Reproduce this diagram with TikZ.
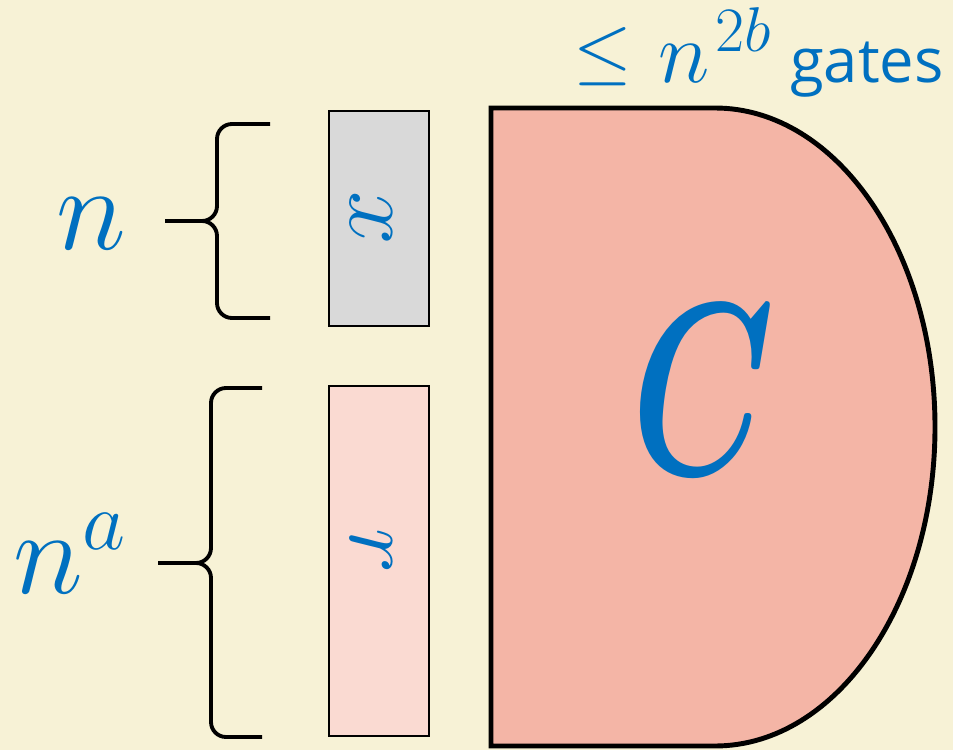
\RequirePackage{fix-cm}
\documentclass[tikz,border=0pt]{standalone}
\usepackage{amsmath}
\usepackage{fontspec}
\newfontfamily\gatesfont{Open Sans}
\usetikzlibrary{positioning}
\definecolor{paper}{RGB}{247,242,214}
\definecolor{ink}{RGB}{0,112,192}
\definecolor{gatefill}{RGB}{244,181,166}
\definecolor{inputgray}{RGB}{217,217,217}
\definecolor{randfill}{RGB}{250,218,210}

\begin{document}
\begin{tikzpicture}[
  x=0.02cm, y=-0.02cm,
  inbox/.style={draw=black, line width=1.2pt, minimum width=2cm, inner sep=0pt},
  curly/.style={draw=black, line width=2.2pt, rounded corners=3mm},
  lbl/.style={text=ink, inner sep=0pt}
]
% page
\fill[paper] (0,0) rectangle (953,750);
\useasboundingbox (0,0) rectangle (953,750);

% the circuit
\draw[line width=2.8pt, fill=gatefill] (491,746) -- (491,108) -- (715,108)
  arc[start angle=-90, end angle=90, x radius=220, y radius=319] -- cycle;
\node[lbl, font=\fontsize{140}{144}\selectfont] (clabel) at (703,390) {\scalebox{0.66}[1]{$\boldsymbol{C}$}};
\node[lbl, anchor=base east] (gates) at (944,83)
  {\raisebox{4pt}{\fontsize{43}{46}\selectfont$\leq$}\hspace{15pt}{\fontsize{50}{54}\selectfont$n$}\hspace{3pt}\raisebox{18pt}{\fontsize{36}{40}\selectfont$2b$}\hspace{11pt}{\gatesfont\fontsize{35}{40}\selectfont gates}};

% inputs
\node[inbox, fill=inputgray, minimum height=4.3cm] (xbox) at (379,218.5) {};
\node[inbox, fill=randfill, minimum height=7cm] (rbox) at (379,561) {};
\node[lbl, rotate=-90, font=\fontsize{55}{58}\selectfont] (xlabel) at ([xshift=-0.16cm]xbox.center) {$x$};
\node[lbl, rotate=-90, font=\fontsize{55}{58}\selectfont] (rlabel) at ([xshift=-0.16cm, yshift=0.2cm]rbox.center) {$r$};

% braces
\coordinate (ntip) at (165,221);
\coordinate (natip) at (158,563);
\draw[curly] (270,124) -| (217,221) -- (ntip);
\draw[curly] (270,318) -| (217,221) -- (ntip);
\draw[curly] (262,388) -| (211,563) -- (natip);
\draw[curly] (262,737) -| (211,563) -- (natip);

\node[lbl, font=\fontsize{68}{70}\selectfont] (nlabel) at (91,224) {$n$};
\node[lbl, anchor=base, font=\fontsize{68}{70}\selectfont] (nalabel) at (70,593) {$n^a$};
\end{tikzpicture}
\end{document}
